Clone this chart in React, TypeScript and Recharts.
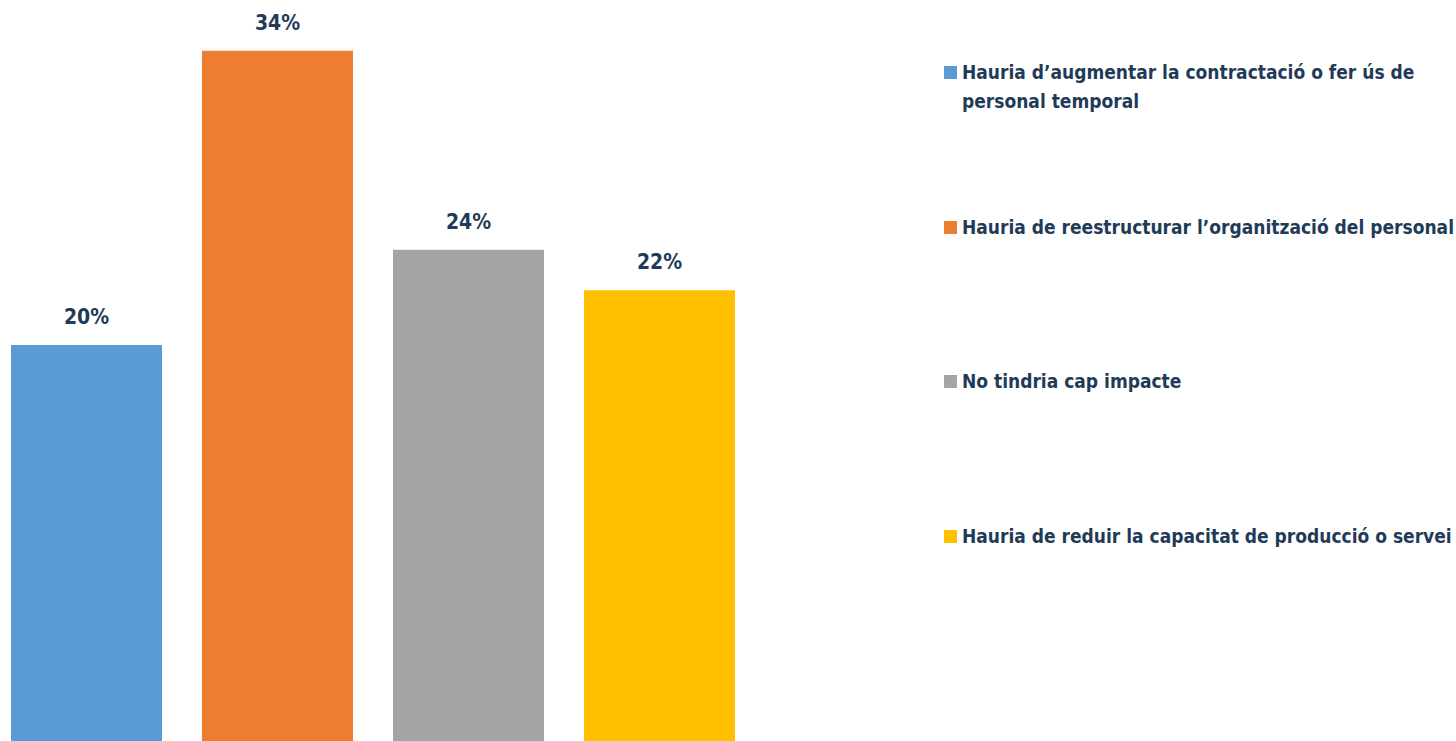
import React from "react";
import { BarChart, Bar, XAxis, YAxis, LabelList } from "recharts";

// answer options (legend), values in %, bar colours
const options = [
  "Hauria d’augmentar la contractació o fer ús de personal temporal",
  "Hauria de reestructurar l’organització del personal",
  "No tindria cap impacte",
  "Hauria de reduir la capacitat de producció o servei",
];
const values = [19.5, 34, 24.2, 22.2];
const colors = ["#5B9BD5", "#ED7D31", "#A5A5A5", "#FFC000"];
const keys = ["s0", "s1", "s2", "s3"];

const row: Record<string, number | string> = { name: "" };
keys.forEach((k, i) => {
  row[k] = values[i];
});
const data = [row];

const TEXT = "#1F3B57";
const FONT = "'DejaVu Sans Condensed', 'DejaVu Sans', sans-serif";

function LegendBox() {
  return (
    <div
      style={{
        position: "absolute",
        left: 944,
        top: 58,
        width: 512,
        fontFamily: FONT,
        fontWeight: 700,
        fontSize: 19,
        color: TEXT,
        lineHeight: "29px",
      }}
    >
      {options.map((label, i) => (
        <div key={label} style={{ display: "flex", alignItems: "flex-start", height: 154.7 }}>
          <div style={{ width: 13, height: 13, background: colors[i], marginTop: 8, marginRight: 5, flexShrink: 0 }} />
          <div style={{ width: 494 }}>{label}</div>
        </div>
      ))}
    </div>
  );
}

export default function App() {
  return (
    <div style={{ position: "absolute", left: 0, top: 0, width: 1456, height: 741, background: "#fff", overflow: "hidden" }}>
      <BarChart
        width={1456}
        height={741}
        data={data}
        margin={{ top: 0, right: 710, bottom: 0, left: 0 }}
        barSize={151}
        barGap={40}
      >
        <XAxis dataKey="name" hide />
        <YAxis hide domain={[0, 36.5]} />
        {keys.map((k, i) => (
          <Bar key={k} dataKey={k} fill={colors[i]} isAnimationActive={false}>
            <LabelList
              dataKey={k}
              position="top"
              offset={21}
              formatter={(v: any) => `${Math.round(Number(v))}%`}
              style={{ fontFamily: FONT, fontWeight: 700, fontSize: 21, fill: TEXT }}
            />
          </Bar>
        ))}
      </BarChart>
      <LegendBox />
    </div>
  );
}
